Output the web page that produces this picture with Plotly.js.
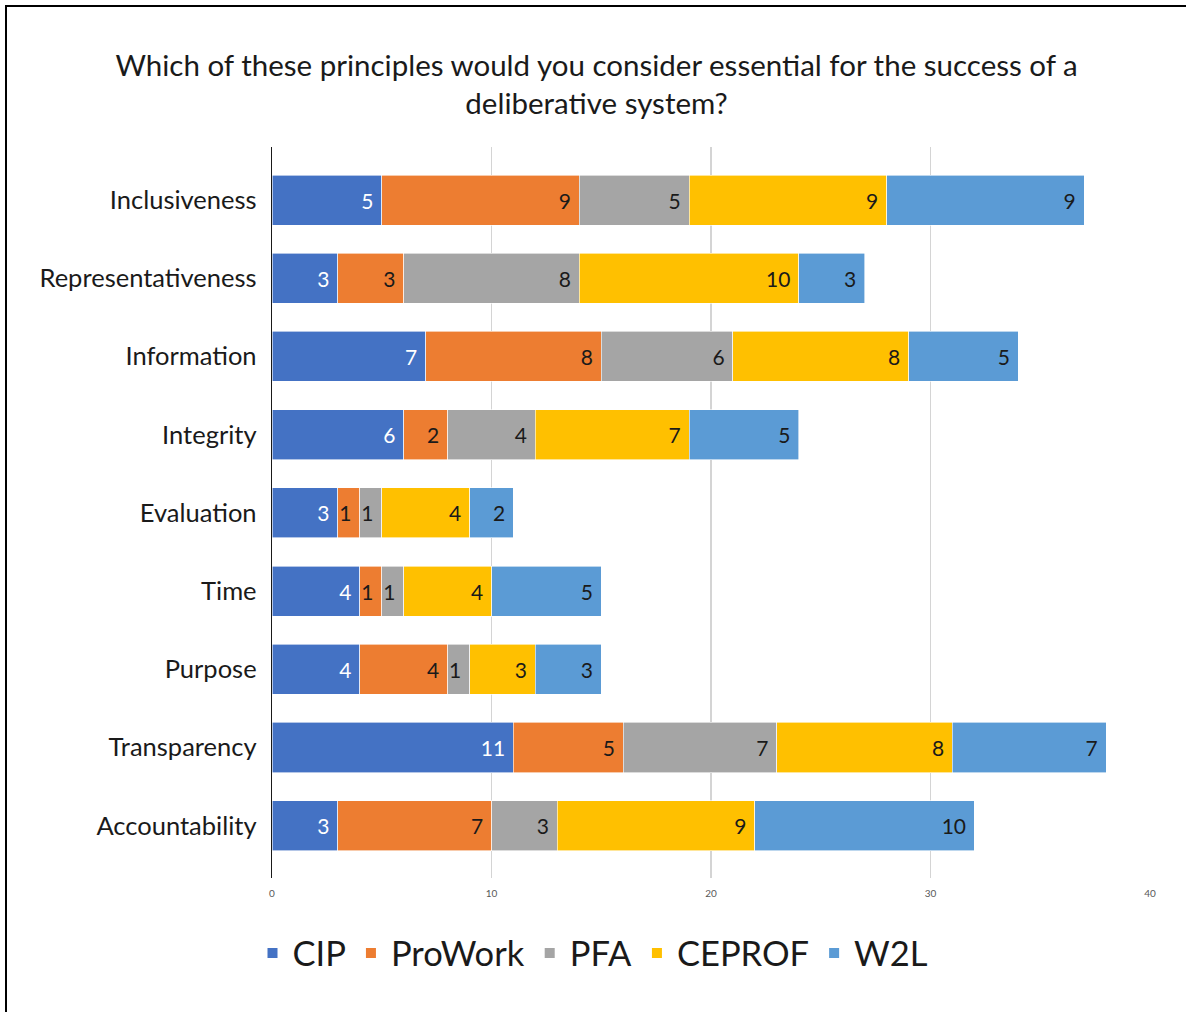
<!DOCTYPE html>
<html>
<head>
<meta charset="utf-8">
<script src="https://cdn.plot.ly/plotly-3.0.1.min.js"></script>
<style>
  html, body { margin: 0; padding: 0; background: #fff; }
  #wrap { position: relative; width: 1186px; height: 1012px; overflow: hidden; }
  #chart { position: absolute; left: 0; top: 0; width: 1186px; height: 1012px; }
  #frame { position: absolute; left: 5px; top: 5px; width: 1200px; height: 1100px;
           border-left: 2px solid #000; border-top: 2px solid #000; pointer-events: none; }
</style>
</head>
<body>
<div id="wrap"><div id="chart"></div><div id="frame"></div></div>
<script>
const categories = ["Inclusiveness", "Representativeness", "Information", "Integrity",
                    "Evaluation", "Time", "Purpose", "Transparency", "Accountability"];
const seriesNames = ["CIP", "ProWork", "PFA", "CEPROF", "W2L"];
const CIP     = [5, 3, 7, 6, 3, 4, 4, 11, 3];
const ProWork = [9, 3, 8, 2, 1, 1, 4, 5, 7];
const PFA     = [5, 8, 6, 4, 1, 1, 1, 7, 3];
const CEPROF  = [9, 10, 8, 7, 4, 4, 3, 8, 9];
const W2L     = [9, 3, 5, 5, 2, 5, 3, 7, 10];
const xTicks  = [0, 10, 20, 30, 40];

const seriesValues = [CIP, ProWork, PFA, CEPROF, W2L];
const colors = ["#4472C4", "#ED7D31", "#A5A5A5", "#FFC000", "#5B9BD5"];
const labelColors = ["#ffffff", "#1a1a1a", "#1a1a1a", "#1a1a1a", "#1a1a1a"];
const FONT = "Lato, Open Sans, sans-serif";

const traces = seriesNames.map((name, i) => ({
  type: "bar",
  orientation: "h",
  name: name,
  y: categories,
  x: seriesValues[i],
  marker: { color: colors[i], line: { color: "#ffffff", width: 0.6 } },
  texttemplate: "%{x}\u00a0",
  textposition: "inside",
  insidetextanchor: "end",
  constraintext: "none",
  textangle: 0,
  textfont: { family: FONT, size: 21, color: labelColors[i] },
  hoverinfo: "x+y+name"
}));

const layout = {
  width: 1186,
  height: 1012,
  barmode: "stack",
  bargap: 0.36,
  paper_bgcolor: "#ffffff",
  plot_bgcolor: "#ffffff",
  font: { family: FONT, color: "#262626" },
  margin: { l: 272, r: 36, t: 147, b: 134, pad: 0 },
  title: {
    text: "Which of these principles would you consider essential for the success of a<br>deliberative system?",
    font: { family: FONT, size: 29.5, color: "#1a1a1a" },
    x: 0.503, xref: "container", xanchor: "center",
    y: 1 - 76 / 1012, yref: "container", yanchor: "middle"
  },
  xaxis: {
    range: [0, 40],
    tickvals: xTicks,
    ticktext: xTicks.map(String),
    showgrid: true,
    gridcolor: "#d4d4d4",
    gridwidth: 1.3,
    zeroline: false,
    showline: false,
    ticks: "",
    ticklen: 0,
    tickfont: { family: FONT, size: 10, color: "#595959" },
    ticklabelstandoff: 8,
    fixedrange: true
  },
  yaxis: {
    type: "category",
    categoryorder: "array",
    categoryarray: categories,
    range: [8.669, -0.678],
    showgrid: false,
    zeroline: false,
    showline: true,
    linecolor: "#1a1a1a",
    linewidth: 1.3,
    ticks: "",
    ticklabelstandoff: 9,
    tickfont: { family: FONT, size: 25.5, color: "#1a1a1a" },
    fixedrange: true
  },
  legend: {
    orientation: "h",
    xref: "container", yref: "container",
    x: 0.5, xanchor: "center",
    y: 1 - 953 / 1012, yanchor: "middle",
    font: { family: FONT, size: 34.5, color: "#1a1a1a" },
    itemsizing: "constant",
    traceorder: "normal",
    itemclick: false
  },
  showlegend: true
};

Plotly.newPlot("chart", traces, layout, { displayModeBar: false, staticPlot: true });
</script>
</body>
</html>
